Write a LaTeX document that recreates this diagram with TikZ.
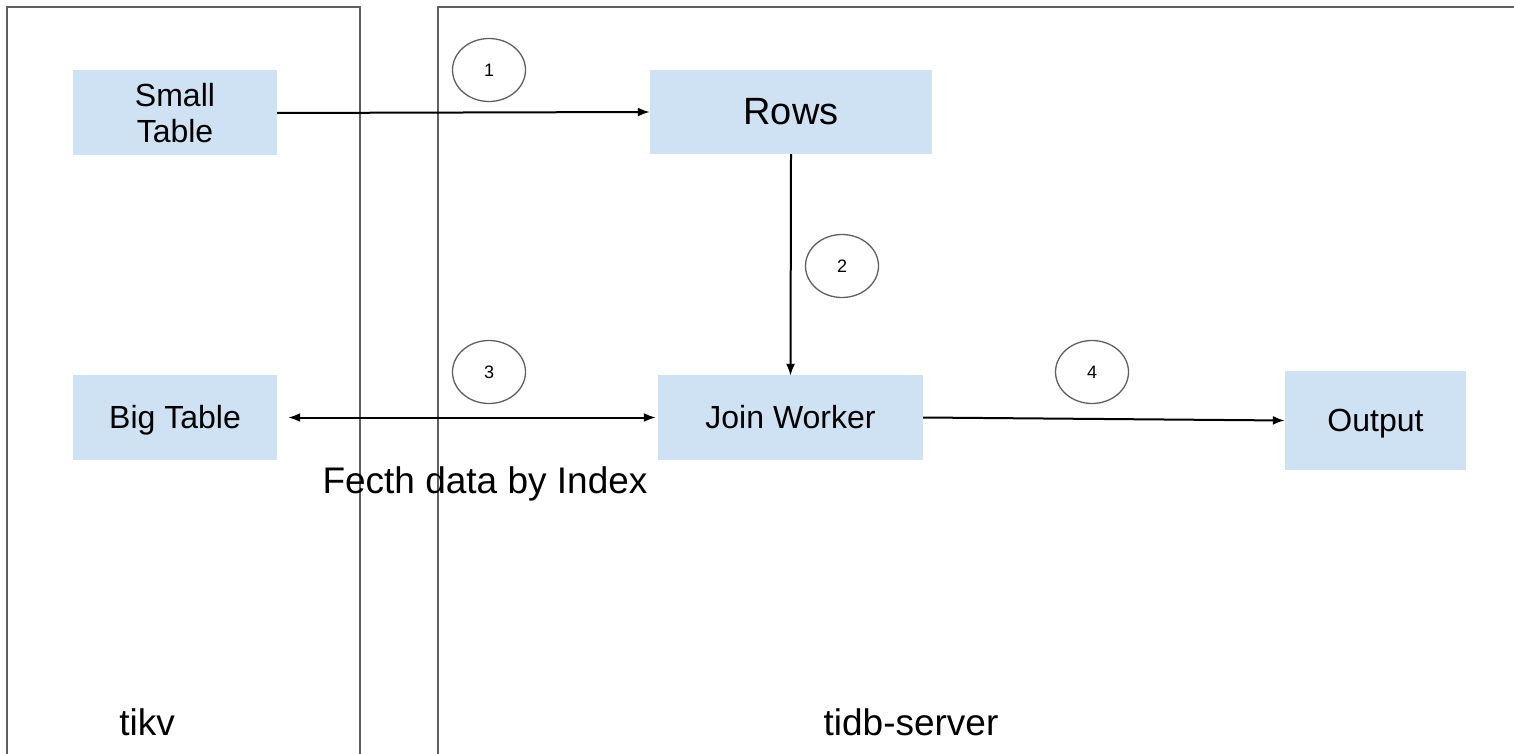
\documentclass[tikz,border=0pt]{standalone}
\usepackage{fontspec}
\setmainfont{Liberation Sans}
\usepackage{tikz}
\usetikzlibrary{arrows.meta,shapes.geometric}
\definecolor{boxblue}{HTML}{CFE2F3}
\definecolor{framegray}{HTML}{5F5F5F}

\begin{document}
\begin{tikzpicture}[x=1pt,y=-1pt,
	box/.style={fill=boxblue,inner sep=0pt,align=center,font=\fontsize{32}{36}\selectfont},
	oneline/.style={text height=22pt,text depth=0pt},
	numbubble/.style={draw=framegray,line width=1.3pt,ellipse,inner sep=0pt,
		minimum width=73pt,minimum height=63pt,font=\fontsize{18}{20}\selectfont},
	frame/.style={draw=framegray,line width=1.3pt},
	link/.style={line width=2pt,-{Latex[length=12pt,width=9pt]}},
	caption/.style={font=\fontsize{37}{40}\selectfont}]
		\useasboundingbox (0,0) rectangle (1514,754);
		% the two machines
		\draw[frame] (7,754) -- (7,7) -- (360,7) -- (360,754);
		\draw[frame] (438,754) -- (438,7) -- (1514,7);
		
		\node[box,minimum width=204pt,minimum height=85pt] (small) at (175,113) {Small\\Table};
		\node[box,oneline,minimum width=282pt,minimum height=84pt,font=\fontsize{38}{40}\selectfont,text height=26pt] (rows) at (791,112) {Rows};
		\node[box,oneline,minimum width=204pt,minimum height=85pt] (big) at (175,417.5) {Big Table};
		\node[box,oneline,minimum width=265pt,minimum height=85pt] (join) at (790.5,417.5) {Join Worker};
		\node[box,oneline,minimum width=181pt,minimum height=99pt] (out) at (1375.5,420.5) {Output};
		
		\node[numbubble] (n1) at (489,70) {1};
		\node[numbubble] (n2) at (842,266) {2};
		\node[numbubble] (n3) at (489,372) {3};
		\node[numbubble] (n4) at (1092,372) {4};
		
		\draw[link] (small.east) -- (rows.west);
		\draw[link] (rows.south) -- ([yshift=-1pt]join.north);
		\draw[link,{Latex[length=12pt,width=9pt]}-{Latex[length=12pt,width=9pt]},shorten <=11pt] (big.east) -- ([xshift=-2pt]join.west);
		\draw[link] (join.east) -- (out.west);
		
		\node[caption] (fetch) at (485,484) {Fecth data by Index};
		\node[caption] (tikv) at (147,722) {tikv};
		\node[caption] (tidb) at (911,722) {tidb-server};
\end{tikzpicture}
\end{document}
